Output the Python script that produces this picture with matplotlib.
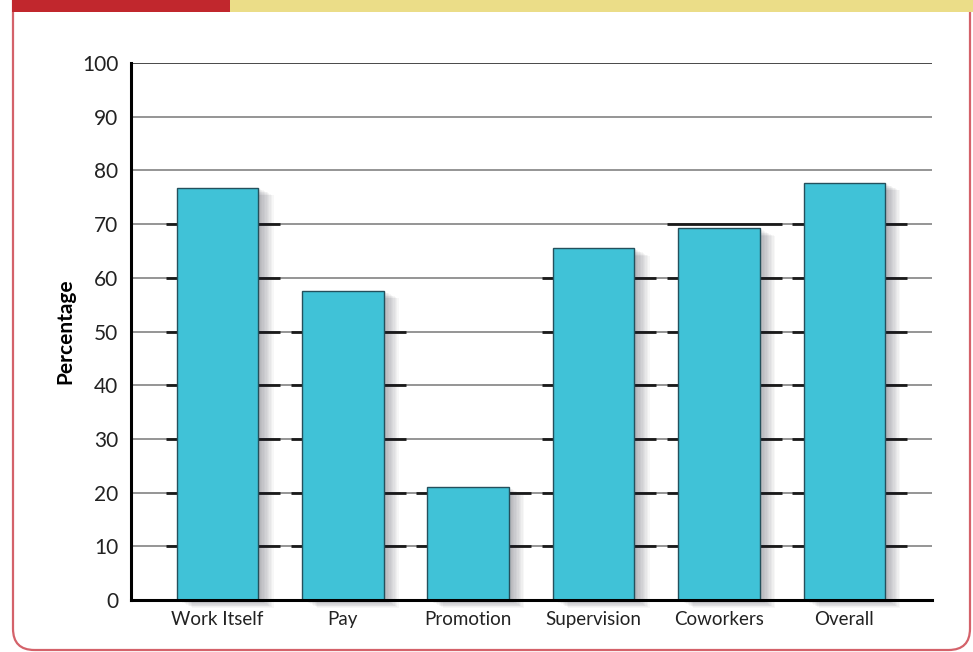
import numpy as np
import matplotlib.pyplot as plt
from matplotlib.patches import Rectangle, FancyBboxPatch
import matplotlib.patheffects as pe

# data
categories = ['Work Itself', 'Pay', 'Promotion', 'Supervision', 'Coworkers', 'Overall']
percentages = [76.8, 57.6, 21.0, 65.5, 69.2, 77.7]
yticks = [0, 10, 20, 30, 40, 50, 60, 70, 80, 90, 100]

plt.rcParams['font.family'] = ['Lato', 'DejaVu Sans']

fig = plt.figure(figsize=(9.73, 6.52), dpi=100)
fig.patch.set_facecolor('white')

# frame and top banner
W, H = 973, 652
frame = FancyBboxPatch((13 / W, 2 / H), (970 - 13) / W, (700 - 2) / H,
                       boxstyle='round,pad=0,rounding_size=0.022',
                       transform=fig.transFigure, facecolor='none',
                       edgecolor='#d4626a', linewidth=1.6, mutation_aspect=W / H)
fig.patches.append(frame)
fig.patches.append(Rectangle((12 / W, 1 - 12 / H), (230 - 12) / W, 12 / H,
                             transform=fig.transFigure, facecolor='#c1272d',
                             edgecolor='none', zorder=5))
fig.patches.append(Rectangle((230 / W, 1 - 12 / H), (W - 230) / W, 12 / H,
                             transform=fig.transFigure, facecolor='#ebdd88',
                             edgecolor='none', zorder=5))

ax = fig.add_axes([131 / W, 1 - 600 / H, (932 - 131) / W, (600 - 63) / H])
x = np.arange(len(categories))
width = 0.65

ax.set_xlim(-0.69, 5.70)
ax.set_ylim(0, 100)

# grey gridlines
for y in yticks[1:]:
    col = '#3a3a3a' if y == 100 else '#8c8c8c'
    ax.axhline(y, color=col, lw=1.3, zorder=1)

# dark segments next to each bar on the gridlines below its top
for xi, v in zip(x, percentages):
    for y in yticks[1:]:
        if y <= v + 1:
            ax.hlines(y, xi - width / 2 - 0.088, xi + width / 2 + 0.175,
                      color='#1a1a1a', lw=2.0, zorder=2)

shadow = [pe.SimplePatchShadow(offset=(k, -k * 0.5), alpha=0.035,
                               shadow_rgbFace='#202030') for k in range(1, 12)]
bars = ax.bar(x, percentages, width=width, color='#40c2d7',
              edgecolor='#24505c', linewidth=1.0, zorder=3, clip_on=False)
for b in bars:
    b.set_path_effects(shadow + [pe.Normal()])

for s in ['top', 'right']:
    ax.spines[s].set_visible(False)
ax.spines['left'].set_linewidth(2.2)
ax.spines['bottom'].set_linewidth(2.2)
ax.spines['left'].set_zorder(4)
ax.spines['bottom'].set_zorder(4)

ax.set_yticks(yticks)
ax.set_yticklabels([str(t) for t in yticks])
ax.set_xticks(x)
ax.set_xticklabels(categories)
ax.tick_params(axis='y', length=0, pad=9, labelsize=15, labelcolor='#222222')
ax.tick_params(axis='x', length=0, pad=8, labelsize=13.5, labelcolor='#222222')

ax.set_ylabel('Percentage', fontsize=15, fontweight='bold', labelpad=5,
              family=['Lato', 'DejaVu Sans'])

fig.savefig('out.png', dpi=100, facecolor='white')
